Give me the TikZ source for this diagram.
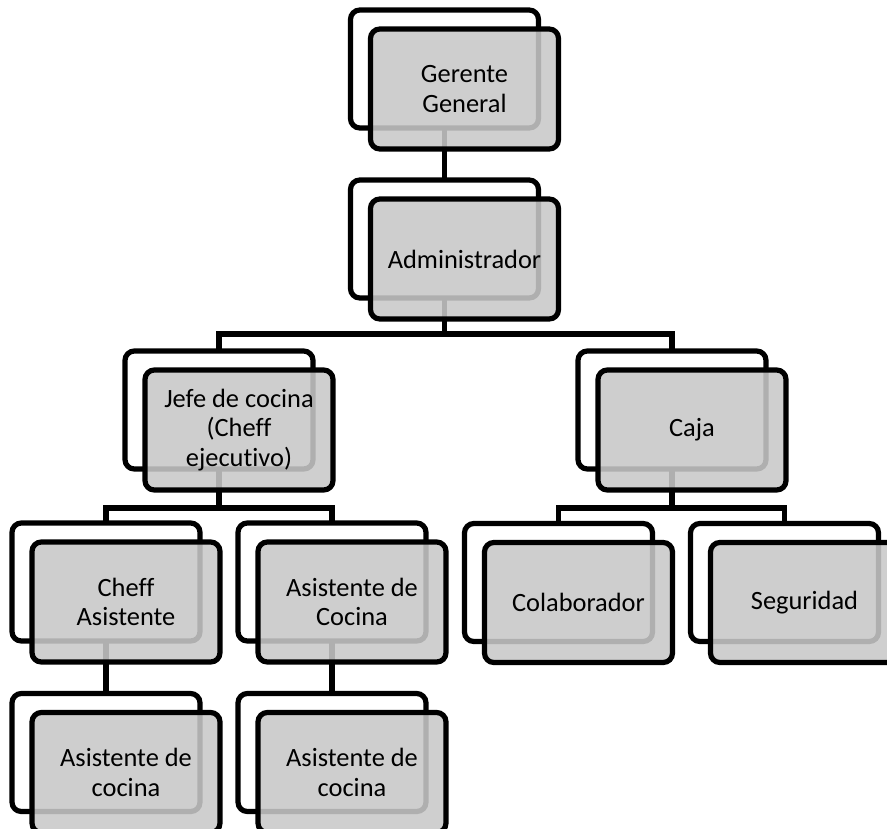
\documentclass[tikz,border=0pt]{standalone}
\usepackage{fontspec}
\setmainfont{Carlito}[Ligatures=NoCommon]
\definecolor{boxgray}{RGB}{200,200,200}
\definecolor{inkline}{RGB}{0,0,0}
\tikzset{
  x=0.75pt, y=-0.75pt,
  backbox/.style={draw=inkline, line width=3.9pt, rounded corners=7pt, fill=white,
    minimum width=141pt, minimum height=88.5pt, inner sep=0pt, outer sep=0pt},
  frontbox/.style={draw=inkline, line width=3.9pt, rounded corners=7pt,
    fill=boxgray, fill opacity=0.88, text opacity=1,
    minimum width=141pt, minimum height=90pt, inner sep=0pt, outer sep=0pt,
    align=center, font=\fontsize{19.8}{22}\selectfont},
  conn/.style={draw=inkline, line width=3.9pt},
}
% back outline of an org unit
\newcommand\backunit[3]{\node[backbox] (#1-b) at (#2,#3) {};}
% front shaded card, offset down-right from its back outline
\newcommand\frontunit[2]{\node[frontbox] (#1) at ([shift={(20,20)}]#1-b.center) {#2};}
\begin{document}
\begin{tikzpicture}
\useasboundingbox (0,0) rectangle (887,828);
\clip (0,0) rectangle (887,828);

% back outlines
\backunit{gg}{444.5}{69}
\backunit{adm}{444.5}{239}
\backunit{jefe}{219}{410}
\backunit{caja}{672}{410}
\backunit{cha}{106}{582}
\backunit{asc}{332}{582}
\backunit{col}{558.5}{582.5}
\backunit{seg}{784.5}{582.5}
\backunit{asa}{106}{752.5}
\backunit{asb}{332}{752.5}

% reporting lines
\draw[conn] (gg-b.south) -- (adm-b.north);
\draw[conn] (adm-b.south) -- ++(0,36) coordinate (busA);
\draw[conn] (jefe-b.north) |- (busA) -| (caja-b.north);
\draw[conn] (jefe-b.south) -- ++(0,39) coordinate (busB);
\draw[conn] (cha-b.north) |- (busB) -| (asc-b.north);
\draw[conn] (caja-b.south) -- ++(0,39) coordinate (busC);
\draw[conn] (col-b.north) |- (busC) -| (seg-b.north);
\draw[conn] (cha-b.south) -- (asa-b.north);
\draw[conn] (asc-b.south) -- (asb-b.north);

% front cards
\frontunit{gg}{Gerente\\General}
\frontunit{adm}{Administrador}
\frontunit{jefe}{Jefe de cocina\\(Cheff\\ejecutivo)}
\frontunit{caja}{Caja}
\frontunit{cha}{Cheff\\Asistente}
\frontunit{asc}{Asistente de\\Cocina}
\frontunit{col}{Colaborador}
\frontunit{seg}{Seguridad}
\frontunit{asa}{Asistente de\\cocina}
\frontunit{asb}{Asistente de\\cocina}
\end{tikzpicture}
\end{document}
